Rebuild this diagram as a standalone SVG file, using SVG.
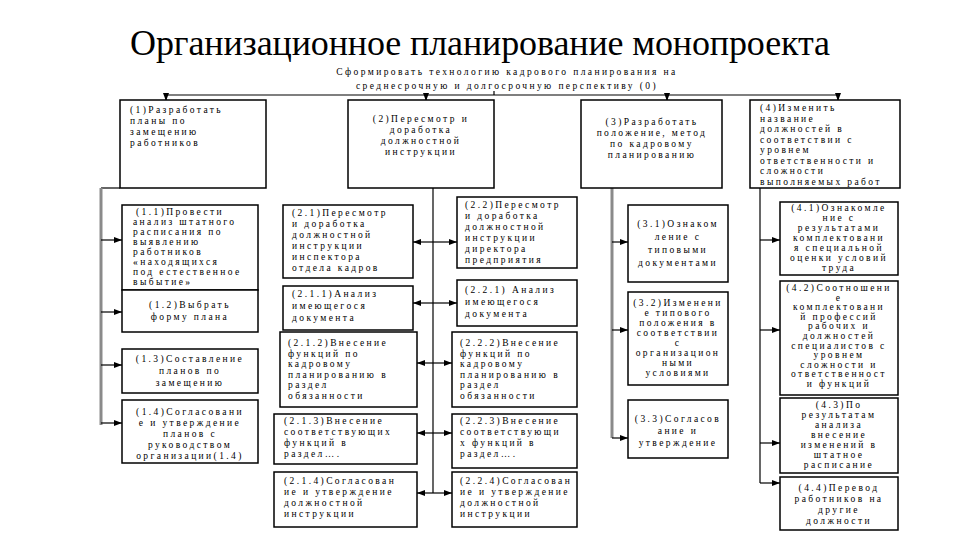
<svg xmlns="http://www.w3.org/2000/svg" width="960" height="540" viewBox="0 0 960 540">
<defs>
<style>
.t{font-family:"Liberation Serif","Times New Roman",serif;font-size:9.5px;letter-spacing:2.4px;fill:#000}
.c{text-anchor:middle}
.title{font-family:"Liberation Serif","Times New Roman",serif;font-size:36px;fill:#000;text-anchor:middle}
.box{fill:#fff;stroke:#000;stroke-width:1.5}
.ln{stroke:#000;stroke-width:1.2;fill:none}
.bar{stroke:#8a8a8a;stroke-width:3;fill:none}
.ar{marker-end:url(#ah)}
</style>
<marker id="ah" markerUnits="userSpaceOnUse" markerWidth="8" markerHeight="6" refX="8" refY="3" orient="auto">
<path d="M0,0 L8,3 L0,6 z" fill="#000"/>
</marker>
</defs>
<rect width="960" height="540" fill="#fff"/>
<text class="title" x="480" y="55" textLength="700" lengthAdjust="spacing">Организационное планирование монопроекта</text>

<g id="connectors">
<path class="ln" d="M494,91 V95 M166,95 H838"/>
<path class="ln ar" d="M166,95 V101"/>
<path class="ln ar" d="M426,95 V101"/>
<path class="ln ar" d="M667,95 V101"/>
<path class="ln ar" d="M838,95 V101"/>
<path class="ln" d="M120,188 H101"/>
<path class="bar" d="M101,188 V425"/>
<path class="ln ar" d="M101,240 H122"/>
<path class="ln ar" d="M101,312 H122"/>
<path class="ln ar" d="M101,365 H122"/>
<path class="ln ar" d="M101,423 H122"/>
<path class="ln" d="M433,188 V493"/>
<path class="ln ar" d="M433,242 H413"/><path class="ln ar" d="M433,242 H457"/>
<path class="ln ar" d="M433,303 H413"/><path class="ln ar" d="M433,303 H457"/>
<path class="ln ar" d="M433,363 H417"/><path class="ln ar" d="M433,363 H452"/>
<path class="ln ar" d="M433,433 H417"/><path class="ln ar" d="M433,433 H452"/>
<path class="ln ar" d="M433,493 H417"/><path class="ln ar" d="M433,493 H452"/>
<path class="bar" d="M612,188 V438"/>
<path class="ln ar" d="M612,242 H628"/>
<path class="ln ar" d="M612,330 H628"/>
<path class="ln ar" d="M612,438 H628"/>
<path class="ln" d="M760,188 V483"/>
<path class="ln ar" d="M760,240 H780"/>
<path class="ln ar" d="M760,330 H780"/>
<path class="ln ar" d="M760,443 H780"/>
<path class="ln ar" d="M760,483 H780"/>
</g>

<g id="n0">
<text class="t c" x="507"><tspan x="507" y="75">Сформировать технологию кадрового планирования на</tspan><tspan x="507" y="89">среднесрочную и долгосрочную перспективу (0)</tspan></text>
</g>

<g id="n1">
<rect class="box" x="120" y="100" width="146" height="88"/>
<text class="t" x="130"><tspan x="130" y="113">(1)Разработать</tspan><tspan x="130" y="124">планы по</tspan><tspan x="130" y="135">замещению</tspan><tspan x="130" y="146">работников</tspan></text>
</g>
<g id="n2">
<rect class="box" x="348" y="100" width="146" height="88"/>
<text class="t c" x="421"><tspan x="421" y="122">(2)Пересмотр и</tspan><tspan x="421" y="133">доработка</tspan><tspan x="421" y="144">должностной</tspan><tspan x="421" y="155">инструкции</tspan></text>
</g>
<g id="n3">
<rect class="box" x="581" y="100" width="141" height="88"/>
<text class="t c" x="652"><tspan x="652" y="125">(3)Разработать</tspan><tspan x="652" y="136">положение, метод</tspan><tspan x="652" y="147">по кадровому</tspan><tspan x="652" y="158">планированию</tspan></text>
</g>
<g id="n4">
<rect class="box" x="750" y="100" width="150" height="88"/>
<text class="t" x="760"><tspan x="760" y="111">(4)Изменить</tspan><tspan x="760" y="121.5">название</tspan><tspan x="760" y="132">должностей в</tspan><tspan x="760" y="142.5">соответствии с</tspan><tspan x="760" y="153">уровнем</tspan><tspan x="760" y="163.5">ответственности и</tspan><tspan x="760" y="174">сложности</tspan><tspan x="760" y="184.5">выполняемых работ</tspan></text>
</g>

<g id="n1-1">
<rect class="box" x="122" y="205" width="136" height="85"/>
<text class="t" x="133"><tspan x="136" y="215">(1.1)Провести</tspan><tspan x="133" y="225">анализ штатного</tspan><tspan x="133" y="235">расписания по</tspan><tspan x="133" y="245">выявлению</tspan><tspan x="133" y="255">работников</tspan><tspan x="133" y="265">«находящихся</tspan><tspan x="133" y="275">под естественное</tspan><tspan x="133" y="285">выбытие»</tspan></text>
</g>
<g id="n1-2">
<rect class="box" x="122" y="290" width="136" height="42"/>
<text class="t c" x="190"><tspan x="190" y="308">(1.2)Выбрать</tspan><tspan x="190" y="320">форму плана</tspan></text>
</g>
<g id="n1-3">
<rect class="box" x="122" y="349" width="136" height="44"/>
<text class="t c" x="190"><tspan x="190" y="362">(1.3)Составление</tspan><tspan x="190" y="374">планов по</tspan><tspan x="190" y="386">замещению</tspan></text>
</g>
<g id="n1-4">
<rect class="box" x="122" y="400" width="136" height="63"/>
<text class="t c" x="190"><tspan x="190" y="415">(1.4)Согласовани</tspan><tspan x="190" y="426">е и утверждение</tspan><tspan x="190" y="437">планов с</tspan><tspan x="190" y="448">руководством</tspan><tspan x="190" y="459">организации(1.4)</tspan></text>
</g>

<g id="n2-1">
<rect class="box" x="283" y="205" width="130" height="73"/>
<text class="t" x="292"><tspan x="292" y="216">(2.1)Пересмотр</tspan><tspan x="292" y="227">и доработка</tspan><tspan x="292" y="238">должностной</tspan><tspan x="292" y="249">инструкции</tspan><tspan x="292" y="260">инспектора</tspan><tspan x="292" y="271">отдела кадров</tspan></text>
</g>
<g id="n2-1-1">
<rect class="box" x="283" y="286" width="130" height="44"/>
<text class="t" x="292"><tspan x="292" y="297">(2.1.1)Анализ</tspan><tspan x="292" y="309">имеющегося</tspan><tspan x="292" y="321">документа</tspan></text>
</g>
<g id="n2-1-2">
<rect class="box" x="280" y="332" width="137" height="75"/>
<text class="t" x="288"><tspan x="288" y="346">(2.1.2)Внесение</tspan><tspan x="288" y="356.5">функций по</tspan><tspan x="288" y="367">кадровому</tspan><tspan x="288" y="377.5">планированию в</tspan><tspan x="288" y="388">раздел</tspan><tspan x="288" y="398.5">обязанности</tspan></text>
</g>
<g id="n2-1-3">
<rect class="box" x="274" y="414" width="143" height="50"/>
<text class="t" x="284"><tspan x="284" y="424">(2.1.3)Внесение</tspan><tspan x="284" y="435">соответствующих</tspan><tspan x="284" y="446">функций в</tspan><tspan x="284" y="457">раздел….</tspan></text>
</g>
<g id="n2-1-4">
<rect class="box" x="274" y="472" width="143" height="55"/>
<text class="t" x="284"><tspan x="284" y="484">(2.1.4)Согласован</tspan><tspan x="284" y="495">ие и утверждение</tspan><tspan x="284" y="506">должностной</tspan><tspan x="284" y="517">инструкции</tspan></text>
</g>

<g id="n2-2">
<rect class="box" x="457" y="197" width="120" height="71"/>
<text class="t" x="465"><tspan x="465" y="208">(2.2)Пересмотр</tspan><tspan x="465" y="219">и доработка</tspan><tspan x="465" y="230">должностной</tspan><tspan x="465" y="241">инструкции</tspan><tspan x="465" y="252">директора</tspan><tspan x="465" y="263">предприятия</tspan></text>
</g>
<g id="n2-2-1">
<rect class="box" x="457" y="280" width="120" height="46"/>
<text class="t" x="465"><tspan x="465" y="293">(2.2.1) Анализ</tspan><tspan x="465" y="305">имеющегося</tspan><tspan x="465" y="317">документа</tspan></text>
</g>
<g id="n2-2-2">
<rect class="box" x="452" y="332" width="125" height="75"/>
<text class="t" x="460"><tspan x="460" y="346">(2.2.2)Внесение</tspan><tspan x="460" y="356.5">функций по</tspan><tspan x="460" y="367">кадровому</tspan><tspan x="460" y="377.5">планированию в</tspan><tspan x="460" y="388">раздел</tspan><tspan x="460" y="398.5">обязанности</tspan></text>
</g>
<g id="n2-2-3">
<rect class="box" x="452" y="414" width="125" height="54"/>
<text class="t" x="460"><tspan x="460" y="424">(2.2.3)Внесение</tspan><tspan x="460" y="435">соответствующи</tspan><tspan x="460" y="446">х функций в</tspan><tspan x="460" y="457">раздел….</tspan></text>
</g>
<g id="n2-2-4">
<rect class="box" x="452" y="472" width="125" height="55"/>
<text class="t" x="460"><tspan x="460" y="484">(2.2.4)Согласован</tspan><tspan x="460" y="495">ие и утверждение</tspan><tspan x="460" y="506">должностной</tspan><tspan x="460" y="517">инструкции</tspan></text>
</g>

<g id="n3-1">
<rect class="box" x="628" y="205" width="100" height="77"/>
<text class="t c" x="678"><tspan x="678" y="227">(3.1)Ознаком</tspan><tspan x="678" y="240">ление с</tspan><tspan x="678" y="253">типовыми</tspan><tspan x="678" y="266">документами</tspan></text>
</g>
<g id="n3-2">
<rect class="box" x="628" y="292" width="100" height="93"/>
<text class="t c" x="678"><tspan x="678" y="306">(3.2)Изменени</tspan><tspan x="678" y="316">е типового</tspan><tspan x="678" y="326">положения в</tspan><tspan x="678" y="336">соответствии</tspan><tspan x="678" y="346">с</tspan><tspan x="678" y="356">организацион</tspan><tspan x="678" y="366">ными</tspan><tspan x="678" y="376">условиями</tspan></text>
</g>
<g id="n3-3">
<rect class="box" x="628" y="400" width="100" height="58"/>
<text class="t c" x="678"><tspan x="678" y="422">(3.3)Согласов</tspan><tspan x="678" y="434">ание и</tspan><tspan x="678" y="446">утверждение</tspan></text>
</g>

<g id="n4-1">
<rect class="box" x="780" y="202" width="118" height="73"/>
<text class="t c" x="839"><tspan x="839" y="211">(4.1)Ознакомле</tspan><tspan x="839" y="221">ние с</tspan><tspan x="839" y="231">результатами</tspan><tspan x="839" y="241">комплектовани</tspan><tspan x="839" y="251">я специальной</tspan><tspan x="839" y="261">оценки условий</tspan><tspan x="839" y="271">труда</tspan></text>
</g>
<g id="n4-2">
<rect class="box" x="780" y="281" width="118" height="114"/>
<text class="t c" x="839"><tspan x="839" y="291">(4.2)Соотношени</tspan><tspan x="839" y="300.6">е</tspan><tspan x="839" y="310.2">комплектовани</tspan><tspan x="839" y="319.8">й профессий</tspan><tspan x="839" y="329.4">рабочих и</tspan><tspan x="839" y="339">должностей</tspan><tspan x="839" y="348.6">специалистов с</tspan><tspan x="839" y="358.2">уровнем</tspan><tspan x="839" y="367.8">сложности и</tspan><tspan x="839" y="377.4">ответственност</tspan><tspan x="839" y="387">и функций</tspan></text>
</g>
<g id="n4-3">
<rect class="box" x="780" y="398" width="118" height="75"/>
<text class="t c" x="839"><tspan x="839" y="408">(4.3)По</tspan><tspan x="839" y="418">результатам</tspan><tspan x="839" y="428">анализа</tspan><tspan x="839" y="438">внесение</tspan><tspan x="839" y="448">изменений в</tspan><tspan x="839" y="458">штатное</tspan><tspan x="839" y="468">расписание</tspan></text>
</g>
<g id="n4-4">
<rect class="box" x="780" y="477" width="118" height="53"/>
<text class="t c" x="839"><tspan x="839" y="491">(4.4)Перевод</tspan><tspan x="839" y="502">работников на</tspan><tspan x="839" y="513">другие</tspan><tspan x="839" y="524">должности</tspan></text>
</g>
</svg>
